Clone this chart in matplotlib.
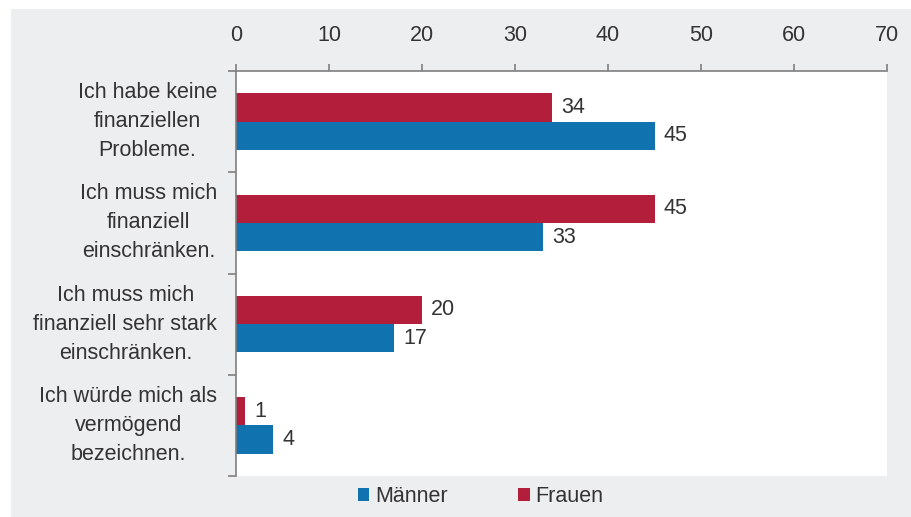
import matplotlib
matplotlib.use("Agg")
import matplotlib.pyplot as plt
from matplotlib.patches import Rectangle
import numpy as np

plt.rcParams['font.family'] = ['Liberation Sans', 'DejaVu Sans']

categories = ["Ich habe keine\nfinanziellen\nProbleme.",
              "Ich muss mich\nfinanziell\neinschränken.",
              "Ich muss mich\nfinanziell sehr stark\neinschränken.",
              "Ich würde mich als\nvermögend\nbezeichnen."]
frauen = [34, 45, 20, 1]
maenner = [45, 33, 17, 4]
x_ticks = [0, 10, 20, 30, 40, 50, 60, 70]

red = "#B31E3B"
blue = "#1172B0"
text_col = "#333333"
spine_col = "#7f7f7f"
fs = 15.5

fig = plt.figure(figsize=(9.12, 5.17), dpi=100, facecolor="white")
# grey panel behind everything
fig.patches.append(Rectangle((11 / 912, 0), 1, 1 - 9 / 517, transform=fig.transFigure,
                             facecolor="#EDEEF0", edgecolor="none", zorder=-10))

ax = fig.add_axes([236 / 912, 41 / 517, 651 / 912, 405 / 517])
ax.set_facecolor("white")

y = np.arange(len(categories))
h = 0.28
bars_f = ax.barh(y - h / 2, frauen, height=h, color=red, label="Frauen")
bars_m = ax.barh(y + h / 2, maenner, height=h, color=blue, label="Männer")

for bars, vals in ((bars_f, frauen), (bars_m, maenner)):
    for b, v in zip(bars, vals):
        ax.annotate(str(v), (b.get_width(), b.get_y() + b.get_height() / 2),
                    xytext=(6.5, 0), textcoords="offset points", va="center",
                    ha="left", fontsize=fs, color=text_col)

ax.set_xlim(0, 70)
ax.set_ylim(len(categories) - 0.5, -0.5)
ax.set_xticks(x_ticks)
ax.xaxis.tick_top()
ax.tick_params(axis="x", direction="out", length=5, width=1.2, color=spine_col,
               labelsize=fs, labelcolor=text_col, pad=13)

ax.set_yticks(y)
ax.set_yticklabels(categories, ha="right", va="center", multialignment="center",
                   fontsize=fs, color=text_col, linespacing=1.5)
ax.tick_params(axis="y", which="major", length=0, pad=13.5)
ax.set_yticks(np.arange(-0.5, len(categories)), minor=True)
ax.tick_params(axis="y", which="minor", length=6, width=1.2, color=spine_col)

for s in ("bottom", "right"):
    ax.spines[s].set_visible(False)
for s in ("top", "left"):
    ax.spines[s].set_color(spine_col)
    ax.spines[s].set_linewidth(1.2)

handles = [bars_m, bars_f]
leg = fig.legend(handles, ["Männer", "Frauen"], loc="center", ncol=2,
                 bbox_to_anchor=(0.527, 0.04), frameon=False, fontsize=fs,
                 handlelength=0.55, handleheight=0.55, handletextpad=0.25,
                 columnspacing=3.3, labelcolor=text_col)

fig.savefig("out.png", dpi=100, facecolor=fig.get_facecolor())
